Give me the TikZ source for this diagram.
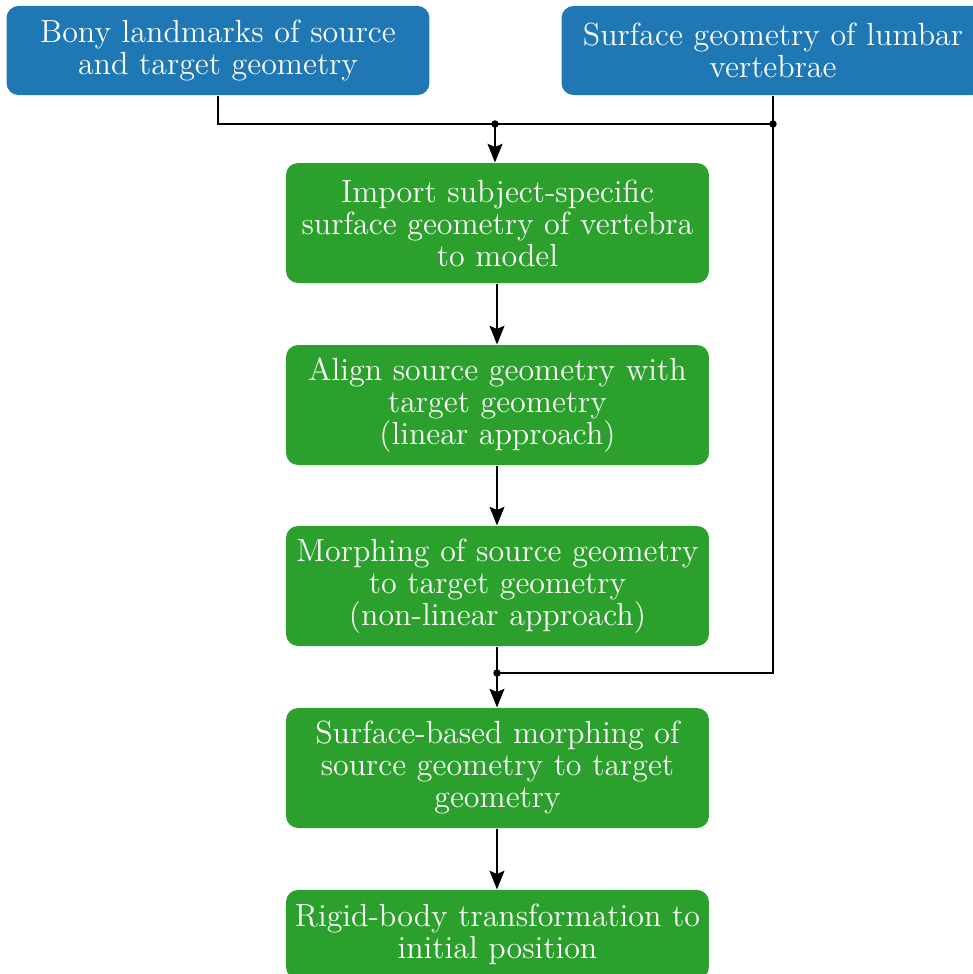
\documentclass[tikz,border=0pt]{standalone}
\usetikzlibrary{arrows.meta}
\definecolor{inblue}{HTML}{1F77B4}
\definecolor{stepgreen}{HTML}{2CA02C}
\begin{document}
\begin{tikzpicture}[x=0.375pt,y=-0.375pt,
  box/.style={rectangle,rounded corners=4.5pt,text=white,align=center,
    font=\fontsize{12pt}{12pt}\selectfont,
    minimum width=158.6pt,text width=154pt,inner sep=0pt},
  inbox/.style={box,fill=inblue,minimum height=33.4pt},
  stepbox/.style={box,fill=stepgreen,minimum height=45pt},
  shortstep/.style={box,fill=stepgreen,minimum height=33.4pt},
  link/.style={line width=0.6pt},
  arr/.style={link,-{Stealth[length=7pt,width=5.6pt,inset=1.2pt]}},
  junction/.style={circle,fill=black,inner sep=0pt,minimum size=2.8pt}]
\useasboundingbox (0,0) rectangle (973,974);

% inputs
\node[inbox] (bony) at (218,50.5) {Bony landmarks of source\\and target geometry};
\node[inbox] (surf) at (773,50.5) {Surface geometry of lumbar\\vertebrae};

% processing chain
\node[stepbox] (import) at (497.5,223) {Import subject-specific\\surface geometry of vertebra\\to model};
\node[stepbox] (align) at (497.5,405) {Align source geometry with\\target geometry\\(linear approach)};
\node[stepbox] (morph) at (497.5,586) {Morphing of source geometry\\to target geometry\\(non-linear approach)};
\node[stepbox] (sbm) at (497.5,768) {Surface-based morphing of\\source geometry to target\\geometry};
\node[shortstep] (rigid) at (497.5,934.5) {Rigid-body transformation to\\initial position};

% junction points
\node[junction] (j1) at (495,124) {};
\node[junction] (j2) at (773,124) {};
\node[junction] (j3) at (497,673) {};
\coordinate (corner) at (773,673);

% connectors
\draw[link] (bony.south) |- (j2.center);
\draw[link] (surf.south) -- (j2.center) -- (corner) -- (j3.center);
\draw[arr] (j1.center) -- (j1.center |- import.north);
\draw[arr] (import.south -| j3) -- (align.north -| j3);
\draw[arr] (align.south -| j3) -- (morph.north -| j3);
\draw[link] (morph.south -| j3) -- (j3.center);
\draw[arr] (j3.center) -- (sbm.north -| j3);
\draw[arr] (sbm.south -| j3) -- (rigid.north -| j3);
\end{tikzpicture}
\end{document}
